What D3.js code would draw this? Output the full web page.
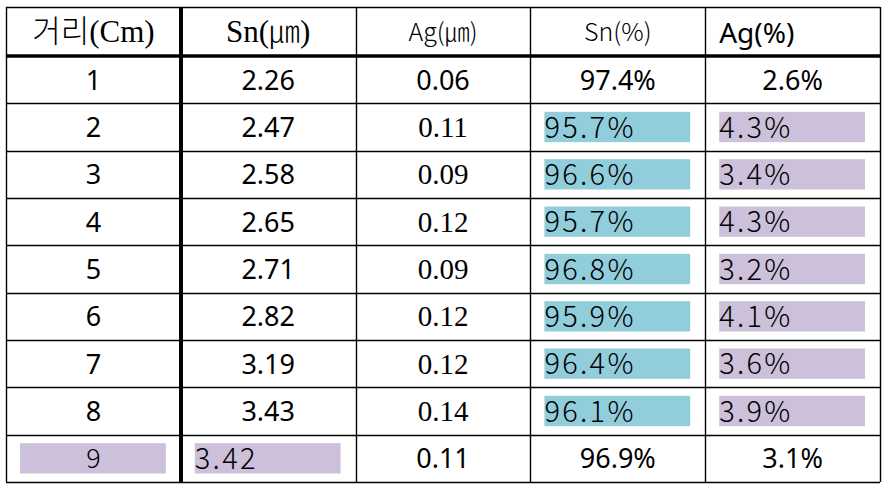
<!DOCTYPE html>
<html><head><meta charset="utf-8">
<script src="https://cdn.jsdelivr.net/npm/d3@7/dist/d3.min.js"></script>
<style>body{margin:0;background:#fff}</style>
</head><body><svg id="c" width="885" height="488"></svg>
<script>
const headers = ["거리(Cm)", "Sn(㎛)", "Ag(㎛)", "Sn(%)", "Ag(%)"];
const distance = ["1","2","3","4","5","6","7","8","9"];
const snUm = ["2.26","2.47","2.58","2.65","2.71","2.82","3.19","3.43","3.42"];
const agUm = ["0.06","0.11","0.09","0.12","0.09","0.12","0.12","0.14","0.11"];
const snPct = ["97.4%","95.7%","96.6%","95.7%","96.8%","95.9%","96.4%","96.1%","96.9%"];
const agPct = ["2.6%","4.3%","3.4%","4.3%","3.2%","4.1%","3.6%","3.9%","3.1%"];

const columns = [distance, snUm, agUm, snPct, agPct];
const svg = d3.select("#c");
const x = d3.scaleBand().domain(d3.range(5)).range([6, 880]);
const y = d3.scaleBand().domain(d3.range(9)).range([56, 482]);
const headTop = 7, headBot = 56;
const BLUE = "#92cddc", PURPLE = "#ccc0da";
const SANS = "'Noto Sans','Open Sans',sans-serif";
const CJK = "'Noto Sans CJK KR',sans-serif";
const SERIF = "'Liberation Serif','DejaVu Serif',serif";

function fillOf(c, r) {
  if (c === 3 && r >= 1 && r <= 7) return BLUE;
  if (c === 4 && r >= 1 && r <= 7) return PURPLE;
  if (r === 8 && (c === 0 || c === 1)) return PURPLE;
  return null;
}

const cells = [];
columns.forEach((col, c) => col.forEach((v, r) => cells.push({c, r, v})));

const g = svg.append("g");
cells.forEach(d => {
  const f = fillOf(d.c, d.r);
  const x0 = x(d.c), w = x.bandwidth(), y0 = y(d.r), h = y.bandwidth();
  const cy = y0 + h / 2;
  if (f) {
    g.append("rect").attr("x", x0 + 14).attr("y", y0 + 8.5)
      .attr("width", w - 29).attr("height", h - 17).attr("fill", f);
  }
  const t = g.append("text").text(d.v).attr("fill", "#000");
  if (f && !(d.r === 8 && d.c === 0)) {
    t.attr("x", x0 + 14).attr("y", cy + 10.5).attr("text-anchor", "start")
      .style("font-family", CJK).style("font-size", "29px").style("font-weight", 300)
      .style("letter-spacing", "2.3px");
  } else if (d.c === 2 && d.r >= 1 && d.r <= 7) {
    t.attr("x", x0 + w / 2).attr("y", cy + 10).attr("text-anchor", "middle")
      .style("font-family", SERIF).style("font-size", "29px");
  } else {
    t.attr("x", x0 + w / 2).attr("y", cy + 10).attr("text-anchor", "middle")
      .style("font-family", d.r === 8 && d.c === 0 ? CJK : SANS)
      .style("font-size", "27px").style("font-weight", d.r === 8 && d.c === 0 ? 300 : 400);
  }
});

const hy = (headTop + headBot) / 2;
headers.forEach((h, c) => {
  const t = svg.append("text").attr("fill", "#000");
  const cx = x(c) + x.bandwidth() / 2;
  if (c === 0) {
    t.attr("x", cx).attr("y", hy + 10).attr("text-anchor", "middle").style("font-size", "31px");
    t.append("tspan").text(h.slice(0, 2)).style("font-family", CJK).style("font-weight", 300);
    t.append("tspan").text(h.slice(2)).style("font-family", SERIF);
  } else if (c === 1) {
    t.attr("x", cx).attr("y", hy + 10).attr("text-anchor", "middle").style("font-size", "31px");
    t.append("tspan").text(h.slice(0, 3)).style("font-family", SERIF);
    t.append("tspan").text(h.slice(3, 4)).style("font-family", CJK).style("font-weight", 300);
    t.append("tspan").text(h.slice(4)).style("font-family", SERIF);
  } else if (c === 2 || c === 3) {
    t.text(h).attr("x", cx).attr("y", hy + 9).attr("text-anchor", "middle")
      .style("font-family", CJK).style("font-size", "25px").style("font-weight", 300);
  } else {
    t.text(h).attr("x", x(c) + 14).attr("y", hy + 11).attr("text-anchor", "start")
      .style("font-family", SANS).style("font-size", "28px");
  }
});

const lines = svg.append("g").attr("stroke", "#000");
const hl = (yy, sw) => lines.append("line").attr("x1", 6).attr("x2", 880)
  .attr("y1", yy).attr("y2", yy).attr("stroke-width", sw);
const vl = (xx, sw) => lines.append("line").attr("x1", xx).attr("x2", xx)
  .attr("y1", headTop).attr("y2", 482).attr("stroke-width", sw);
hl(headTop + 0.5, 1.4);
d3.range(1, 9).forEach(r => hl(Math.round(y(r)) + 0.5, 1.4));
hl(482.5, 1.4);
hl(headBot, 3.5);
[0, 2, 3, 4].forEach(c => vl(Math.round(x(c)) + 0.5, 1.4));
vl(880.5, 1.4);
vl(Math.round(x(1)), 4);
</script></body></html>
